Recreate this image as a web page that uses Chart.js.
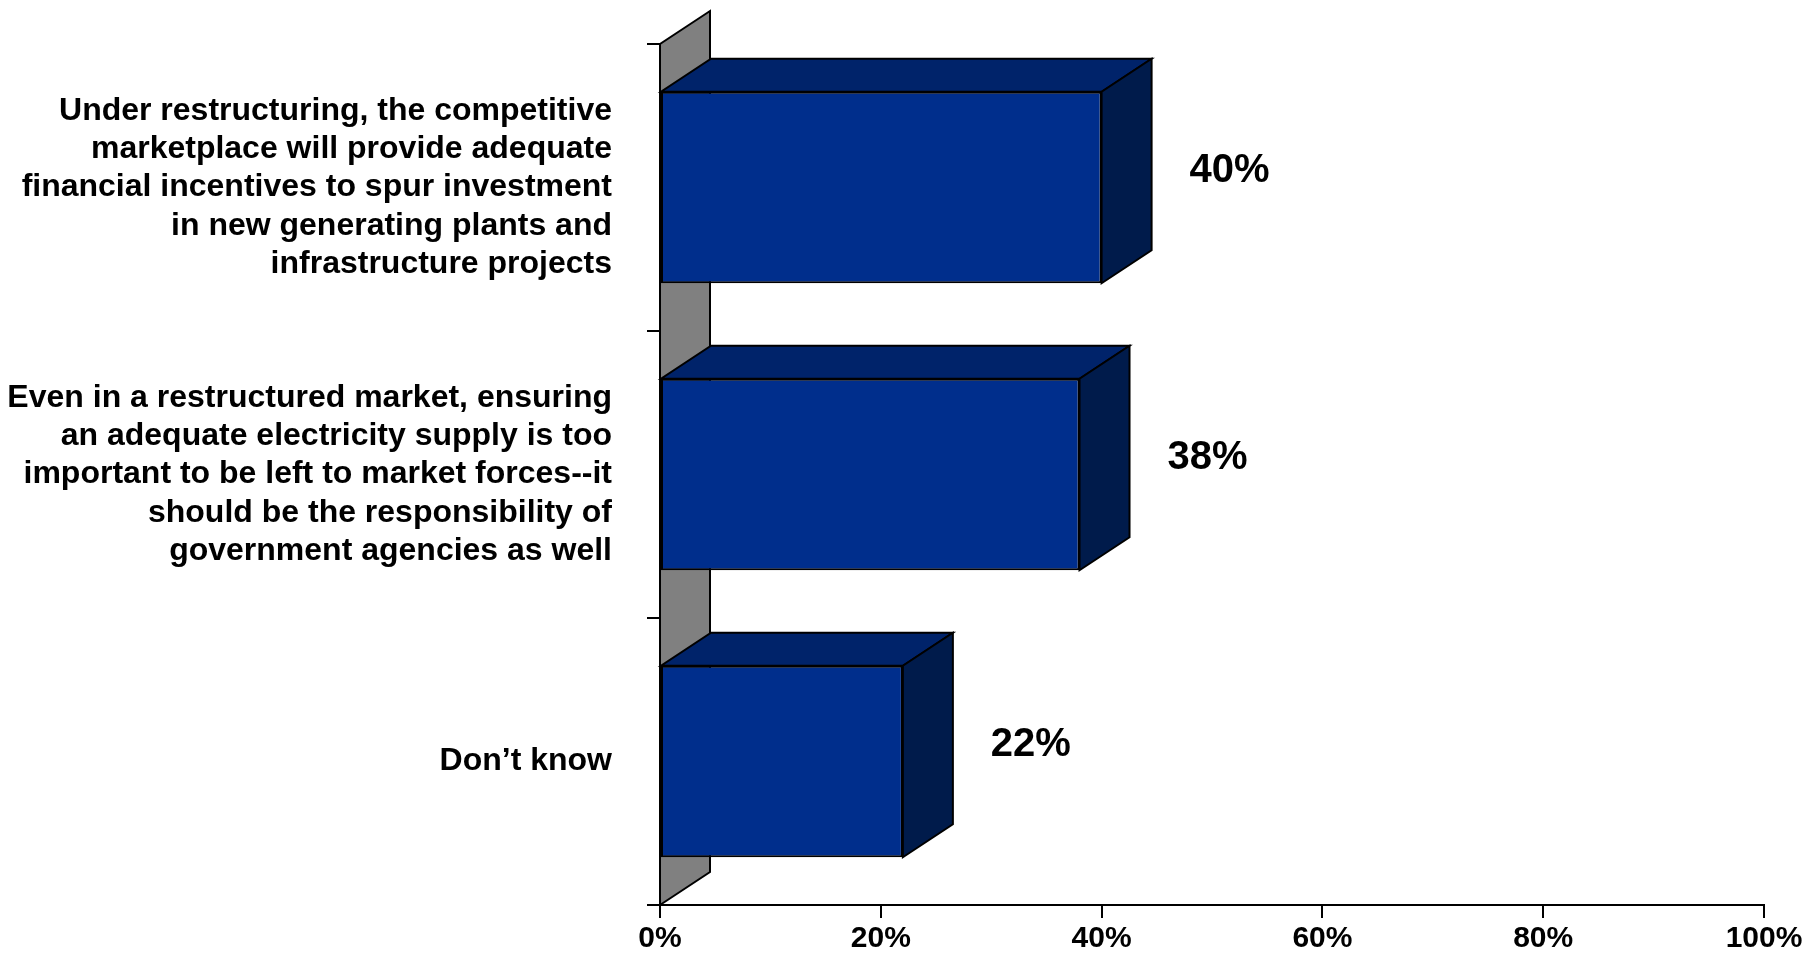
<!DOCTYPE html>
<html>
<head>
<meta charset="utf-8">
<script src="https://cdn.jsdelivr.net/npm/chart.js@4"></script>
<style>
  html, body { margin: 0; padding: 0; background: #fff; }
  #wrap { width: 1810px; height: 954px; position: relative; }
</style>
</head>
<body>
<div id="wrap"><canvas id="opinionChart"></canvas></div>
<script>
// Survey answers, one label line per array entry
const categories = [
  ["Under restructuring, the competitive", "marketplace will provide adequate", "financial incentives to spur investment", "in new generating plants and", "infrastructure projects"],
  ["Even in a restructured market, ensuring", "an adequate electricity supply is too", "important to be left to market forces--it", "should be the responsibility of", "government agencies as well"],
  ["Don\u2019t know"]
];
const shares = [40, 38, 22];
const percentTicks = [0, 20, 40, 60, 80, 100];

const FONT = "'Liberation Sans', Arial, sans-serif";
const depthX = 50;
const depthY = 33;

function fillPoly(ctx, pts, color) {
  ctx.beginPath();
  ctx.moveTo(pts[0][0], pts[0][1]);
  for (let i = 1; i < pts.length; i++) ctx.lineTo(pts[i][0], pts[i][1]);
  ctx.closePath();
  ctx.fillStyle = color;
  ctx.fill();
  ctx.lineWidth = 2;
  ctx.lineJoin = "miter";
  ctx.strokeStyle = "#000";
  ctx.stroke();
}

// Grey back wall plus the top and side faces of each bar
const bar3d = {
  id: "bar3d",
  beforeDatasetsDraw(chart) {
    const { ctx, chartArea: a } = chart;
    ctx.save();
    fillPoly(ctx, [
      [a.left, a.bottom],
      [a.left + depthX, a.bottom - depthY],
      [a.left + depthX, a.top - depthY],
      [a.left, a.top]
    ], "#808080");
    ctx.restore();
  },
  afterDatasetsDraw(chart) {
    const { ctx } = chart;
    const meta = chart.getDatasetMeta(0);
    ctx.save();
    meta.data.forEach((bar, i) => {
      const { x, y, base, height } = bar.getProps(["x", "y", "base", "height"], true);
      const top = y - height / 2;
      const bottom = y + height / 2;
      fillPoly(ctx, [[base, top], [x, top], [x + depthX, top - depthY], [base + depthX, top - depthY]], "#00236a");
      fillPoly(ctx, [[x, top], [x + depthX, top - depthY], [x + depthX, bottom - depthY], [x, bottom]], "#001b4b");

      // value label to the right of the bar
      ctx.fillStyle = "#000";
      ctx.font = "bold 40px " + FONT;
      ctx.textAlign = "center";
      ctx.textBaseline = "middle";
      ctx.fillText(shares[i] + "%", x + 128, y - 17);
    });
    ctx.restore();
  }
};

const ctx = document.getElementById("opinionChart").getContext("2d");
new Chart(ctx, {
  type: "bar",
  data: {
    labels: categories,
    datasets: [
      {
        data: shares,
        backgroundColor: "#002e8c",
        borderColor: "#000",
        borderWidth: 2,
        borderSkipped: false,
        categoryPercentage: 0.667,
        barPercentage: 1
      }
    ]
  },
  options: {
    indexAxis: "y",
    responsive: true,
    maintainAspectRatio: false,
    animation: false,
    layout: { padding: { top: 44, right: 46, left: 0, bottom: 0 } },
    plugins: {
      legend: { display: false },
      tooltip: { enabled: false }
    },
    scales: {
      x: {
        min: 0,
        max: 100,
        afterBuildTicks(scale) {
          scale.ticks = percentTicks.map(v => ({ value: v }));
        },
        afterFit(scale) {
          scale.height = 49;
          scale.paddingLeft = 0;
          scale.paddingRight = 0;
        },
        border: { color: "#000", width: 2 },
        grid: { drawOnChartArea: false, tickLength: 13, color: "#000", lineWidth: 2 },
        ticks: {
          color: "#000",
          padding: 3,
          maxRotation: 0,
          font: { family: FONT, size: 30, weight: "bold" },
          callback: v => v + "%"
        }
      },
      y: {
        afterFit(scale) {
          scale.width = 660;
          scale.paddingTop = 0;
          scale.paddingBottom = 0;
        },
        border: { color: "#000", width: 2 },
        grid: { drawOnChartArea: false, tickLength: 13, color: "#000", lineWidth: 2, offset: true },
        ticks: {
          color: "#000",
          padding: 35,
          font: { family: FONT, size: 32, weight: "bold", lineHeight: 1.2 }
        }
      }
    }
  },
  plugins: [bar3d]
});
</script>
</body>
</html>
